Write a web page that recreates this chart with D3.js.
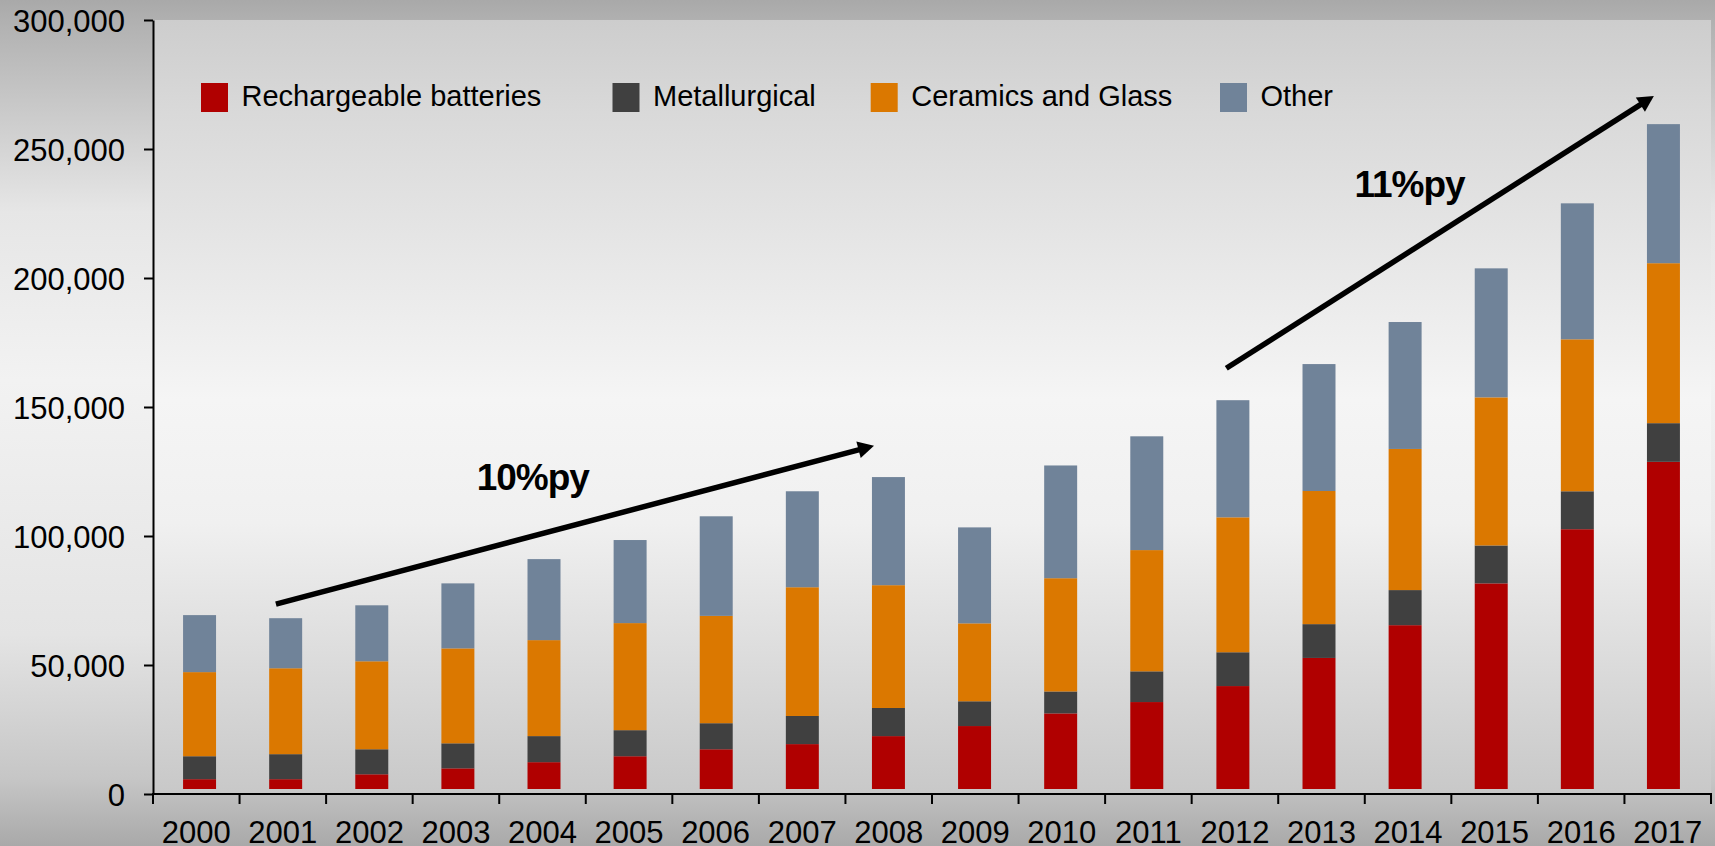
<!DOCTYPE html>
<html><head><meta charset="utf-8">
<script src="https://cdn.jsdelivr.net/npm/d3@7"></script>
<style>html,body{margin:0;padding:0;background:#e0e0e0;} svg{display:block;font-family:"Liberation Sans",Arial,sans-serif;}</style>
</head><body><svg id="chart" width="1715" height="846"></svg>
<script>
// ---------- data ----------
const years = ["2000","2001","2002","2003","2004","2005","2006","2007","2008","2009","2010","2011","2012","2013","2014","2015","2016","2017"];
const seriesNames = ["Rechargeable batteries","Metallurgical","Ceramics and Glass","Other"];
const rechargeable = [3800,3800,5700,8000,10400,12700,15400,17400,20500,24400,29300,33700,39900,50800,63500,79700,100700,126800];
const metallurgical = [8900,9700,9700,9700,10100,10100,10100,10900,10900,9600,8500,11900,13100,13100,13600,14700,14700,15000];
const ceramicsGlass = [32600,33300,34100,36800,37200,41500,41600,49900,47600,30200,43900,47000,52300,51600,54700,57400,58900,62000];
const other = [22100,19400,21700,25200,31400,32200,38600,37200,41900,37200,43700,44100,45400,49200,49200,50000,52700,53900];
const yTicks = [0,50000,100000,150000,200000,250000,300000];
const growthLabels = ["10%py","11%py"];
const arrowFrom = [[2000.92,73600],[2011.9,165000]];
const arrowTo = [[2007.83,135000],[2016.84,270500]];
const labelAt = [[2003.24,117800],[2013.38,231400]];

// ---------- style / layout ----------
const colors = ["#b00000","#404040","#db7800","#708399"];
const W = 1715, H = 846;
const plot = {left:153, right:1711, top:20, bottom:794};
const barLift = 5;
const legendX = [201, 612.5, 870.7, 1220];

const svg = d3.select("#chart");
const defs = svg.append("defs");
function grad(id, stops){
  const g = defs.append("linearGradient").attr("id",id).attr("x1",0).attr("y1",0).attr("x2",0).attr("y2",1);
  stops.forEach(s=>g.append("stop").attr("offset",s[0]).attr("stop-color",s[1]));
}
grad("outerG",[[0,"#a9a9a9"],[0.03,"#b2b2b2"],[0.25,"#e6e6e6"],[0.45,"#f2f2f2"],[0.75,"#e4e4e4"],[0.92,"#c6c6c6"],[1,"#a9a9a9"]]);
grad("plotG",[[0,"#cdcdcd"],[0.12,"#d9d9d9"],[0.49,"#f5f5f5"],[0.65,"#f0f0f0"],[1,"#c8c8c8"]]);

svg.append("rect").attr("width",W).attr("height",H).attr("fill","url(#outerG)");
svg.append("rect").attr("x",plot.left).attr("y",plot.top).attr("width",plot.right-plot.left)
  .attr("height",plot.bottom-plot.top).attr("fill","url(#plotG)");

// ---------- scales ----------
const xSlot = d3.scaleBand().domain(years).range([plot.left, plot.right]);
const xBar = d3.scaleBand().domain(years).range([156.5, 1706.5]).paddingInner(0.617).paddingOuter(0.3085);
const y = d3.scaleLinear().domain([0,300000]).range([plot.bottom, plot.top]);
const xYear = d3.scaleLinear().domain([+years[0], +years[years.length-1]])
  .range([xSlot(years[0])+xSlot.bandwidth()/2, xSlot(years[years.length-1])+xSlot.bandwidth()/2]);

// ---------- stacked bars ----------
const table = years.map((yr,i)=>({year:yr, [seriesNames[0]]:rechargeable[i], [seriesNames[1]]:metallurgical[i], [seriesNames[2]]:ceramicsGlass[i], [seriesNames[3]]:other[i]}));
const stacked = d3.stack().keys(seriesNames)(table);
const barsG = svg.append("g").attr("transform",`translate(0,${-barLift})`);
barsG.selectAll("g").data(stacked).join("g").attr("fill",(d,i)=>colors[i])
  .selectAll("rect").data(d=>d).join("rect")
  .attr("x",d=>xBar(d.data.year)).attr("width",xBar.bandwidth())
  .attr("y",d=>y(d[1])).attr("height",d=>y(d[0])-y(d[1]));

// ---------- axes ----------
const yAxis = svg.append("g").attr("transform",`translate(${plot.left},0)`)
  .call(d3.axisLeft(y).tickValues(yTicks).tickFormat(d3.format(",")).tickSize(9).tickSizeOuter(0).tickPadding(19));
yAxis.select(".domain").attr("stroke","#000").attr("stroke-width",2);
yAxis.selectAll(".tick line").attr("stroke","#000").attr("stroke-width",2);
yAxis.selectAll(".tick text").attr("font-size",31).attr("fill","#000").attr("font-family","Liberation Sans, Arial, sans-serif").attr("dy","0.36em");

const xAxis = svg.append("g").attr("transform",`translate(0,${plot.bottom})`)
  .call(d3.axisBottom(xSlot).tickSize(0).tickPadding(27));
xAxis.select(".domain").remove();
xAxis.selectAll(".tick text").attr("font-size",31).attr("fill","#000").attr("font-family","Liberation Sans, Arial, sans-serif").attr("dy","0.71em");
svg.append("line").attr("x1",plot.left-1).attr("x2",plot.right+1).attr("y1",plot.bottom).attr("y2",plot.bottom)
  .attr("stroke","#000").attr("stroke-width",2);
const bounds = years.map(yr=>xSlot(yr)).concat([plot.right]);
svg.append("g").selectAll("line").data(bounds).join("line")
  .attr("x1",d=>d).attr("x2",d=>d).attr("y1",plot.bottom).attr("y2",plot.bottom+10)
  .attr("stroke","#000").attr("stroke-width",2);

// ---------- legend ----------
const leg = svg.append("g");
seriesNames.forEach((name,i)=>{
  leg.append("rect").attr("x",legendX[i]).attr("y",83).attr("width",27).attr("height",29).attr("fill",colors[i]);
  leg.append("text").attr("x",legendX[i]+40.5).attr("y",106).attr("font-size",29).attr("fill","#000").text(name);
});

// ---------- growth arrows ----------
const arrG = svg.append("g");
arrowFrom.forEach((f,i)=>{
  const t = arrowTo[i];
  const x1 = xYear(f[0]), y1 = y(f[1]), x2 = xYear(t[0]), y2 = y(t[1]);
  const dx = x2-x1, dy = y2-y1, L = Math.hypot(dx,dy), ux = dx/L, uy = dy/L;
  const hl = 16, hw = 8.5;
  const bx = x2-ux*hl, by = y2-uy*hl;
  arrG.append("line").attr("x1",x1).attr("y1",y1).attr("x2",bx+ux*2).attr("y2",by+uy*2)
    .attr("stroke","#000").attr("stroke-width",5.5);
  arrG.append("path").attr("d",`M${x2},${y2}L${bx-uy*hw},${by+ux*hw}L${bx+uy*hw},${by-ux*hw}Z`).attr("fill","#000");
  arrG.append("text").attr("x",xYear(labelAt[i][0])).attr("y",y(labelAt[i][1]))
    .attr("font-size",37).attr("font-weight","bold").attr("fill","#000").attr("letter-spacing",-1).text(growthLabels[i]);
});
</script></body></html>
